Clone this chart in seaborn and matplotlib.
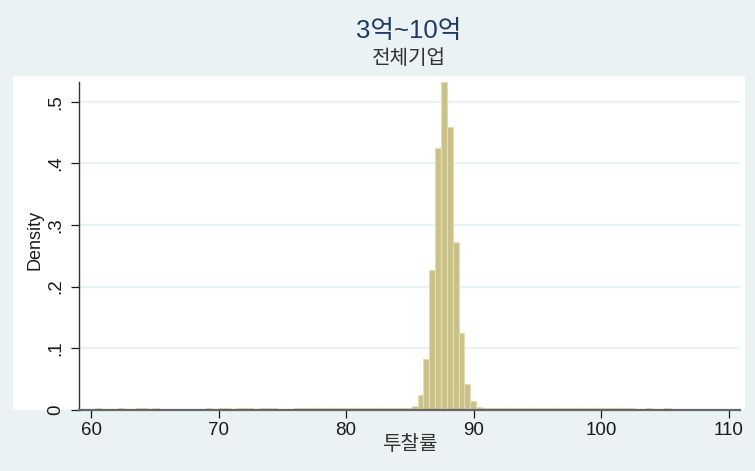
import numpy as np
import pandas as pd
import matplotlib
matplotlib.use("Agg")
import matplotlib.pyplot as plt
from matplotlib.patches import Rectangle
import seaborn as sns

# Histogram bins: left edge of the first bin and common bin width
bin_start = 60.3
bin_width = 0.46
n_bins = 99

# Sparse lower tail (bin index -> density)
low_tail_bins = [0, 4, 7, 8, 10, 19, 21, 22, 24, 25, 26, 28, 29, 30,
                 34, 35, 36, 37, 38, 39, 40, 41, 42, 43, 44, 45, 46, 47,
                 48, 49, 50, 51, 52, 53]
low_tail_density = [0.002, 0.002, 0.002, 0.002, 0.002, 0.002, 0.002, 0.002,
                    0.002, 0.002, 0.002, 0.002, 0.002, 0.002, 0.002, 0.002,
                    0.002, 0.002, 0.002, 0.002, 0.002, 0.002, 0.002, 0.002,
                    0.002, 0.002, 0.002, 0.002, 0.002, 0.002, 0.002, 0.002,
                    0.002, 0.003]

# Main body of the distribution
core_bins = [54, 55, 56, 57, 58, 59, 60, 61, 62, 63, 64, 65]
core_density = [0.006, 0.024, 0.082, 0.227, 0.425, 0.532,
                0.459, 0.272, 0.125, 0.042, 0.014, 0.004]

# Sparse upper tail
high_tail_bins = [66, 67, 68, 69, 70, 71, 72, 73, 74, 75, 76, 77, 78, 79,
                  80, 81, 82, 83, 84, 85, 86, 87, 88, 89, 90, 91, 94, 97]
high_tail_density = [0.002, 0.002, 0.002, 0.002, 0.002, 0.002, 0.002,
                     0.002, 0.002, 0.002, 0.002, 0.002, 0.002, 0.002,
                     0.002, 0.002, 0.002, 0.002, 0.002, 0.002, 0.002,
                     0.002, 0.002, 0.002, 0.002, 0.002, 0.002, 0.002]

x_ticks = [60, 70, 80, 90, 100, 110]
y_ticks = [0, 0.1, 0.2, 0.3, 0.4, 0.5]
y_tick_labels = ["0", ".1", ".2", ".3", ".4", ".5"]

title = "3억~10억"
subtitle = "전체기업"
x_label = "투찰률"
y_label = "Density"

# ---------------------------------------------------------------
edges = [float(e) for e in bin_start + bin_width * np.arange(n_bins + 1)]
bins_idx = low_tail_bins + core_bins + high_tail_bins
dens = low_tail_density + core_density + high_tail_density
df = pd.DataFrame({"rate": [edges[i] + bin_width / 2 for i in bins_idx],
                   "density": dens})

sns.set_style("white")
plt.rcParams["font.family"] = ["Liberation Sans", "Noto Sans CJK KR", "DejaVu Sans"]

W, H = 755, 471
bg = "#eaf2f3"
fig = plt.figure(figsize=(W / 100, H / 100), dpi=100, facecolor=bg)

# inner white region behind the plot
fig.patches.append(Rectangle((13 / W, (H - 410) / H), (745 - 13) / W, (410 - 76) / H,
                             transform=fig.transFigure, facecolor="white",
                             edgecolor="none", zorder=-5))

ax_left, ax_right, ax_top, ax_bottom = 79, 740, 82, 409.7
ax = fig.add_axes([ax_left / W, (H - ax_bottom) / H,
                   (ax_right - ax_left) / W, (ax_bottom - ax_top) / H])
ax.set_zorder(5)
ax.set_facecolor("white")

sns.histplot(data=df, x="rate", weights="density", bins=edges, stat="count",
             color="#c9c189", edgecolor="#e2ddb3", linewidth=0.8, alpha=1,
             ax=ax, zorder=3)

px_per_unit = 12.754
ax.set_xlim(60 - (91 - ax_left) / px_per_unit, 60 + (ax_right - 91) / px_per_unit)
ax.set_ylim(0, 0.532)

for yv in y_ticks[1:]:
    ax.axhline(yv, color=bg, lw=1.6, zorder=1)

ax.set_xticks(x_ticks)
ax.set_xticklabels([str(v) for v in x_ticks])
ax.set_yticks(y_ticks)
ax.set_yticklabels(y_tick_labels, rotation=90, va="center")
ax.tick_params(axis="both", direction="out", length=5.5, width=0.9,
               colors="#1a1a1a", labelsize=13.5, left=True, bottom=True)
ax.tick_params(axis="y", pad=5)
ax.tick_params(axis="x", pad=3)
ax.set_xlabel("")
ax.set_ylabel("")

for s in ["top", "right"]:
    ax.spines[s].set_visible(False)
ax.spines["left"].set_color("#333333")
ax.spines["left"].set_linewidth(1.0)
ax.spines["bottom"].set_color("#666666")
ax.spines["bottom"].set_linewidth(1.6)
ax.spines["left"].set_zorder(4)
ax.spines["bottom"].set_zorder(4)

fig.text(409 / W, 1 - 31 / H, title, ha="center", va="center",
         fontsize=18.5, color="#203864")
fig.text(409 / W, 1 - 58 / H, subtitle, ha="center", va="center",
         fontsize=14.5, color="#333333")
fig.text(410 / W, 1 - 444 / H, x_label, ha="center", va="center",
         fontsize=14.5, color="#333333")
fig.text(35 / W, 1 - 240 / H, y_label, ha="center", va="center",
         rotation=90, fontsize=13, color="#1a1a1a")

fig.savefig("out.png", dpi=100, facecolor=bg)
